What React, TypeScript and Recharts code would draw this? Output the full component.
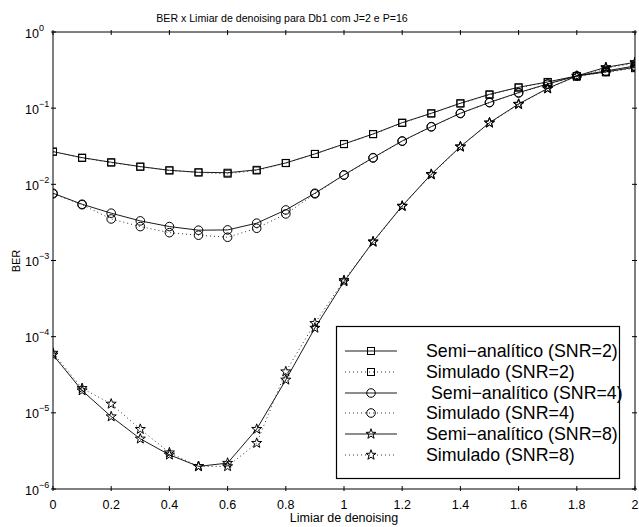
import { Line, LineChart, XAxis, YAxis } from "recharts";

const FONT = "'Liberation Sans', Arial, Helvetica, sans-serif";

const thresholds = [0, 0.1, 0.2, 0.3, 0.4, 0.5, 0.6, 0.7, 0.8, 0.9, 1, 1.1, 1.2, 1.3, 1.4, 1.5, 1.6, 1.7, 1.8, 1.9, 2];
const xTicks = [0, 0.2, 0.4, 0.6, 0.8, 1, 1.2, 1.4, 1.6, 1.8, 2];
const yTicks = [1e-6, 1e-5, 1e-4, 1e-3, 1e-2, 1e-1, 1];

const semiSnr2 = [0.0269, 0.0224, 0.0195, 0.0171, 0.0153, 0.0144, 0.0142, 0.0155, 0.0191, 0.0251, 0.0339, 0.0458, 0.0645, 0.0857, 0.116, 0.152, 0.188, 0.221, 0.265, 0.299, 0.344];
const simSnr2 = [0.0268, 0.0222, 0.0193, 0.017, 0.0152, 0.0143, 0.0138, 0.0152, 0.019, 0.025, 0.0337, 0.0455, 0.064, 0.085, 0.115, 0.15, 0.186, 0.219, 0.263, 0.295, 0.335];
const semiSnr4 = [0.00764, 0.00548, 0.00418, 0.00331, 0.00279, 0.0025, 0.00252, 0.00309, 0.00461, 0.00764, 0.0133, 0.0224, 0.0371, 0.0572, 0.0857, 0.119, 0.16, 0.208, 0.265, 0.308, 0.358];
const simSnr4 = [0.0075, 0.0054, 0.00351, 0.00279, 0.00232, 0.00215, 0.00202, 0.00265, 0.00409, 0.0075, 0.0132, 0.0222, 0.0368, 0.0568, 0.085, 0.118, 0.158, 0.206, 0.263, 0.303, 0.35];
const semiSnr8 = [5.77e-5, 1.96e-5, 8.93e-6, 4.56e-6, 2.81e-6, 1.98e-6, 2.19e-6, 6.11e-6, 2.71e-5, 1.3e-4, 5.28e-4, 1.77e-3, 5.21e-3, 0.0136, 0.0313, 0.0645, 0.1135, 0.182, 0.265, 0.344, 0.4];
const simSnr8 = [6.1e-5, 2.1e-5, 1.31e-5, 6.1e-6, 3.0e-6, 1.98e-6, 1.98e-6, 4.0e-6, 3.48e-5, 1.5e-4, 5.5e-4, 1.75e-3, 5.15e-3, 0.0134, 0.031, 0.064, 0.112, 0.18, 0.262, 0.335, 0.39];

type Shape = "square" | "circle" | "star";

const series: { key: string; name: string; values: number[]; shape: Shape; dotted: boolean }[] = [
  { key: "semi2", name: "Semi−analítico (SNR=2)", values: semiSnr2, shape: "square", dotted: false },
  { key: "sim2", name: "Simulado (SNR=2)", values: simSnr2, shape: "square", dotted: true },
  { key: "semi4", name: " Semi−analítico (SNR=4)", values: semiSnr4, shape: "circle", dotted: false },
  { key: "sim4", name: "Simulado (SNR=4)", values: simSnr4, shape: "circle", dotted: true },
  { key: "semi8", name: "Semi−analítico (SNR=8)", values: semiSnr8, shape: "star", dotted: false },
  { key: "sim8", name: "Simulado (SNR=8)", values: simSnr8, shape: "star", dotted: true },
];

const data = thresholds.map((x, i) => {
  const row: Record<string, number> = { x };
  series.forEach((s) => (row[s.key] = s.values[i]));
  return row;
});

function starPoints(cx: number, cy: number, R: number) {
  const pts: string[] = [];
  for (let i = 0; i < 10; i++) {
    const r = i % 2 === 0 ? R : R * 0.4;
    const a = -Math.PI / 2 + (i * Math.PI) / 5;
    pts.push(`${cx + r * Math.cos(a)},${cy + r * Math.sin(a)}`);
  }
  return pts.join(" ");
}

function Marker({ shape, cx, cy }: { shape: Shape; cx?: number; cy?: number }) {
  if (cx == null || cy == null || isNaN(cx) || isNaN(cy)) return null;
  if (shape === "square")
    return <rect x={cx - 3.5} y={cy - 3.5} width={7} height={7} fill="none" stroke="#000" strokeWidth={1} />;
  if (shape === "circle") return <circle cx={cx} cy={cy} r={4.3} fill="none" stroke="#000" strokeWidth={1} />;
  return <polygon points={starPoints(cx, cy, 5.3)} fill="none" stroke="#000" strokeWidth={1} />;
}

function fmtX(v: number) {
  return v === 0 ? "0" : String(Number(v.toFixed(1)));
}

function BottomTick({ x, y, payload }: any) {
  return (
    <g>
      <line x1={x} y1={y} x2={x} y2={y - 5} stroke="#000" />
      <text x={x} y={y + 18} textAnchor="middle" fontSize={12.5} fontFamily={FONT} fill="#000">
        {fmtX(payload.value)}
      </text>
    </g>
  );
}

function TopTick({ x, y }: any) {
  return <line x1={x} y1={y} x2={x} y2={y + 5} stroke="#000" />;
}

function LeftTick({ x, y, payload }: any) {
  const exp = Math.round(Math.log10(payload.value));
  return (
    <g>
      <line x1={x} y1={y} x2={x + 5} y2={y} stroke="#000" />
      <text x={x - 26} y={y + 5.5} fontSize={12.5} fontFamily={FONT} fill="#000">
        10
        <tspan dy={-7} fontSize={9}>
          {exp < 0 ? `−${-exp}` : `${exp}`}
        </tspan>
      </text>
    </g>
  );
}

function RightTick({ x, y }: any) {
  return <line x1={x} y1={y} x2={x - 5} y2={y} stroke="#000" />;
}

export default function App() {
  const rowY = [351, 372, 393, 413, 434, 455];
  return (
    <div style={{ position: "absolute", left: 0, top: 0, width: 639, height: 527, background: "#fff" }}>
      <LineChart width={639} height={527} data={data} margin={{ top: 0, right: 0, bottom: 0, left: 0 }}>
        <XAxis
          dataKey="x"
          type="number"
          domain={[0, 2]}
          ticks={xTicks}
          interval={0}
          allowDataOverflow
          height={38}
          tickSize={0}
          tickLine={false}
          axisLine={{ stroke: "#000" }}
          tick={BottomTick}
        />
        <XAxis
          xAxisId="top"
          orientation="top"
          dataKey="x"
          type="number"
          domain={[0, 2]}
          ticks={xTicks}
          interval={0}
          allowDataOverflow
          height={32}
          tickSize={0}
          tickLine={false}
          axisLine={{ stroke: "#000" }}
          tick={TopTick}
        />
        <YAxis
          type="number"
          scale="log"
          domain={[1e-6, 1]}
          ticks={yTicks}
          interval={0}
          allowDataOverflow
          width={53}
          tickSize={0}
          tickLine={false}
          axisLine={{ stroke: "#000" }}
          tick={LeftTick}
        />
        <YAxis
          yAxisId="right"
          orientation="right"
          type="number"
          scale="log"
          domain={[1e-6, 1]}
          ticks={yTicks}
          interval={0}
          allowDataOverflow
          width={4}
          tickSize={0}
          tickLine={false}
          axisLine={{ stroke: "#000" }}
          tick={RightTick}
        />
        {series.map((s) => (
          <Line
            key={s.key}
            dataKey={s.key}
            name={s.name}
            type="linear"
            stroke={s.dotted ? "#333" : "#000"}
            strokeWidth={s.dotted ? 1 : 0.9}
            strokeDasharray={s.dotted ? "1 3" : undefined}
            isAnimationActive={false}
            dot={(p: any) => <Marker key={`${s.key}-${p.index}`} shape={s.shape} cx={p.cx} cy={p.cy} />}
            activeDot={false}
          />
        ))}
      </LineChart>
      <svg width={639} height={527} style={{ position: "absolute", left: 0, top: 0, pointerEvents: "none" }}>
        <text x={282} y={21.5} textAnchor="middle" fontSize={10.6} fontFamily={FONT} fill="#000">
          BER x Limiar de denoising para Db1 com J=2 e P=16
        </text>
        <text x={344} y={522} textAnchor="middle" fontSize={12.5} fontFamily={FONT} fill="#000">
          Limiar de denoising
        </text>
        <text
          x={20}
          y={261}
          textAnchor="middle"
          fontSize={11}
          fontFamily={FONT}
          fill="#000"
          transform="rotate(-90 20 261)"
        >
          BER
        </text>
        <rect x={336.5} y={326.5} width={283} height={152} fill="#fff" stroke="#000" strokeWidth={1.2} />
        {series.map((s, i) => (
          <g key={s.key}>
            <line
              x1={345}
              y1={rowY[i]}
              x2={397}
              y2={rowY[i]}
              stroke={s.dotted ? "#333" : "#000"}
              strokeWidth={s.dotted ? 1 : 0.9}
              strokeDasharray={s.dotted ? "1 3" : undefined}
            />
            <Marker shape={s.shape} cx={371} cy={rowY[i]} />
            <text
              x={426}
              y={rowY[i] + 6}
              fontSize={17.8}
              fontFamily={FONT}
              fill="#000"
              style={{ whiteSpace: "pre" }}
            >
              {s.name}
            </text>
          </g>
        ))}
      </svg>
    </div>
  );
}
